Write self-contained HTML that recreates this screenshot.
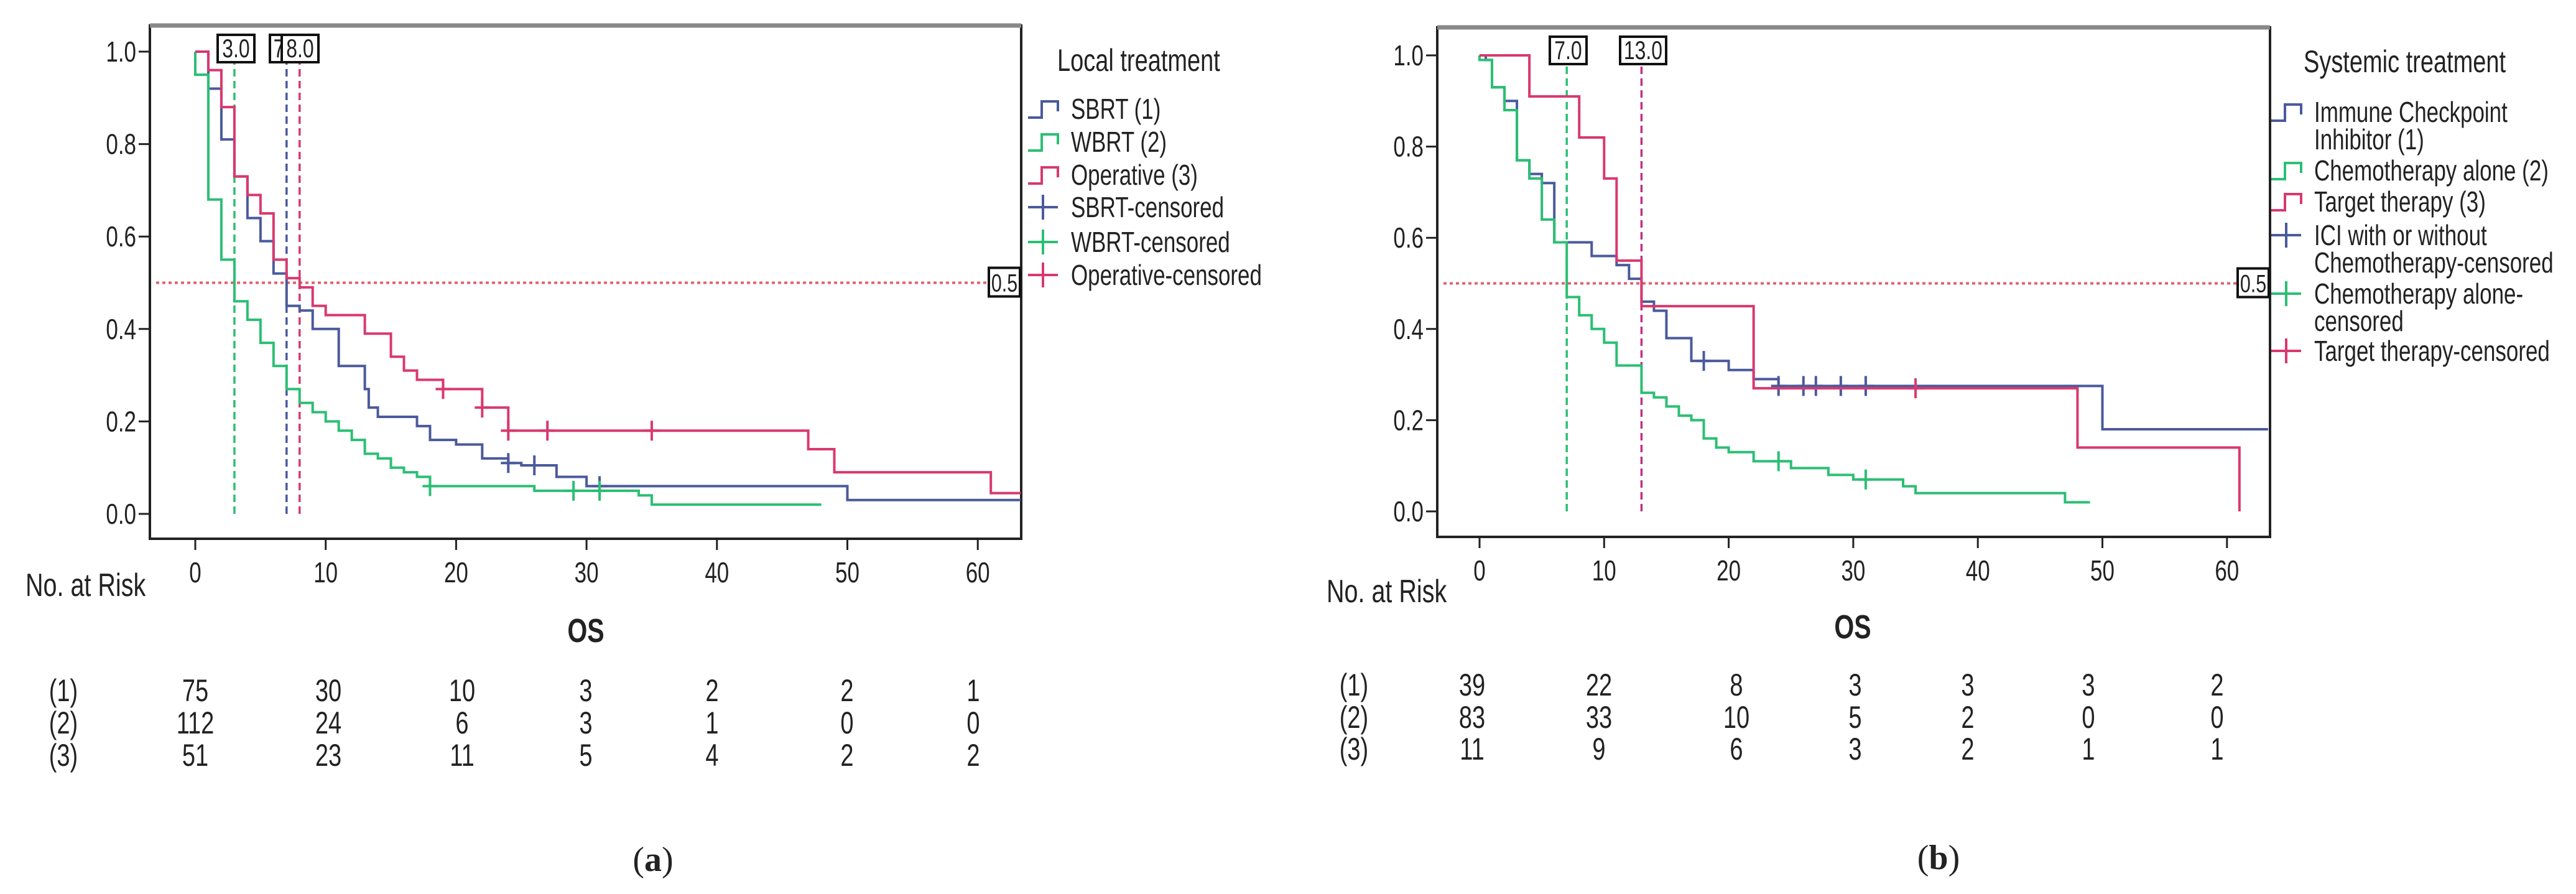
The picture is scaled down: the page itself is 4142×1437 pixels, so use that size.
<!DOCTYPE html>
<html><head><meta charset="utf-8"><style>
html,body{margin:0;padding:0;background:#fff;}
svg{display:block;}
text{font-family:"Liberation Sans Narrow","Liberation Sans",sans-serif;fill:#222;}
</style></head><body>
<svg id="fig" width="4142" height="1437" viewBox="0 0 4142 1437" xmlns="http://www.w3.org/2000/svg"></svg>
<script>
// ---------- Panel (a) data ----------
const aSbrtT=[1,2,3,4,5,6,7,8,9,11,13,13.3,14,17,18,20,22,24,25,27.7,30,50];
const aSbrtS=[0.92,0.81,0.73,0.64,0.59,0.52,0.45,0.44,0.40,0.32,0.27,0.23,0.21,0.19,0.16,0.15,0.12,0.11,0.105,0.08,0.06,0.03];
const aSbrtCens=[24,26,31];
const aWbrtT=[0,1,2,3,4,5,6,7,8,9,10,11,12,13,14,15,16,17,18,26,34,35];
const aWbrtS=[0.95,0.68,0.55,0.46,0.42,0.37,0.32,0.27,0.24,0.22,0.20,0.18,0.16,0.13,0.12,0.10,0.09,0.08,0.06,0.05,0.04,0.02];
const aWbrtCens=[18,29,31];
const aOpT=[1,2,3,4,5,6,7,8,9,10,13,15,16,17,19,22,24,47,49,61];
const aOpS=[0.96,0.88,0.73,0.69,0.65,0.55,0.51,0.49,0.45,0.43,0.39,0.34,0.31,0.29,0.27,0.23,0.18,0.14,0.09,0.045];
const aOpCens=[19,22,24,27,35];
const aEnds=[63.3,48,63.3];
const aMedians=[3,7,8];
const aMedianLabels=["3.0","7","8.0"];
const aRisk=[["75","30","10","3","2","2","1"],["112","24","6","3","1","0","0"],["51","23","11","5","4","2","2"]];
// ---------- Panel (b) data ----------
const bIciT=[0.5,1,2,3,4,5,6,9,11,12,13,14,15,17,20,22,24,50];
const bIciS=[0.99,0.93,0.90,0.77,0.74,0.72,0.59,0.56,0.54,0.51,0.46,0.44,0.38,0.33,0.31,0.29,0.275,0.18];
const bIciCens=[18,24,26,27,29,31];
const bChemoT=[0,1,2,3,4,5,6,7,8,9,10,11,13,14,15,16,17,18,19,20,22,25,28,30,34,35,47];
const bChemoS=[0.99,0.93,0.88,0.77,0.73,0.64,0.59,0.47,0.43,0.40,0.37,0.32,0.26,0.25,0.23,0.21,0.20,0.16,0.14,0.13,0.11,0.095,0.08,0.07,0.055,0.04,0.02];
const bChemoCens=[24,31];
const bTgtT=[4,8,10,11,13,22,48,61];
const bTgtS=[0.91,0.82,0.73,0.55,0.45,0.27,0.14,0];
const bTgtCens=[35];
const bEnds=[63.3,49,61];
const bMedians=[7,13];
const bMedianLabels=["7.0","13.0"];
const bRisk=[["39","22","8","3","3","3","2"],["83","33","10","5","2","0","0"],["11","9","6","3","2","1","1"]];
const xTicks=[0,10,20,30,40,50,60];
const yTicks=[0,0.2,0.4,0.6,0.8,1.0];
const yTickLabels=["0.0","0.2","0.4","0.6","0.8","1.0"];

const NS="http://www.w3.org/2000/svg";
const svg=document.getElementById('fig');
const SX=0.76;
function el(tag,attrs,parent,txt){const e=document.createElementNS(NS,tag);for(const k in attrs)e.setAttribute(k,attrs[k]);if(txt!==undefined)e.textContent=txt;(parent||svg).appendChild(e);return e;}
function tx(attrs,parent,txt,sx){const s=sx||SX;const e=el('text',attrs,parent,txt);e.setAttribute('transform',`matrix(${s} 0 0 1 ${(1-s)*attrs.x} 0)`);return e;}
const BLUE="#4a5a9c",GREEN="#2bbf73",RED="#d8396e";

function panel(P){
  const g=el('g',{});
  
  
  const X=t=>P.x0+(t)*P.xs, Y=s=>P.y0-(s)*P.ys;
  const fr=el('rect',{x:P.L,y:P.T,width:P.R-P.L,height:P.B-P.T,fill:'none',stroke:'#222','stroke-width':4},g);
  
  const tp=el('line',{x1:P.L,y1:P.T,x2:P.R,y2:P.T,stroke:'#888','stroke-width':7},g);
  
  yTicks.forEach((v,i)=>{
    const tk=el('line',{x1:P.L-18,y1:Y(v),x2:P.L,y2:Y(v),stroke:'#222','stroke-width':3},g);
    
    const tl=tx({x:P.L-22,y:Y(v)+16,'font-size':46,'text-anchor':'end'},g,yTickLabels[i]);
    
  });
  xTicks.forEach(v=>{
    const tk=el('line',{x1:X(v),y1:P.B,x2:X(v),y2:P.B+18,stroke:'#222','stroke-width':3},g);
    
    const tl=tx({x:X(v),y:P.B+70,'font-size':46,'text-anchor':'middle'},g,String(v));
    
  });
  const hl=el('line',{x1:P.L+10,y1:Y(0.5),x2:P.R-54,y2:Y(0.5),stroke:'#e06070','stroke-width':4,'stroke-dasharray':'5 5'},g);
  
  const hb=el('rect',{x:P.R-52,y:Y(0.5)-24,width:50,height:46,fill:'#fff',stroke:'#111','stroke-width':4},g);
  
  const ht=tx({x:P.R-27,y:Y(0.5)+14,'font-size':40,'text-anchor':'middle'},g,'0.5');
  
  P.medians.forEach((m,i)=>{
    const vl=el('line',{x1:X(m),y1:Y(0),x2:X(m),y2:P.T+58,stroke:P.medColors[i],'stroke-width':3.5,'stroke-dasharray':'12 7'},g);
    
    const w=P.medLabels[i].length*15+14;
    const bx=P.medBoxX?P.medBoxX[i]:X(m)-w/2;
    const rb=el('rect',{x:bx,y:P.T+15,width:w,height:44,fill:'#fff',stroke:'#111','stroke-width':4},g);
    
    const rt=tx({x:bx+w/2,y:P.T+51,'font-size':42,'text-anchor':'middle'},g,P.medLabels[i]);
    
  });
  P.series.forEach(s=>{
    let d=`M${X(0)},${Y(1)}`;
    s.T.forEach((t,i)=>{d+=` H${X(t)} V${Y(s.S[i])}`;});
    d+=` H${X(s.end)}`;
    const p=el('path',{d:d,fill:'none',stroke:s.color,'stroke-width':4},g);
    
    s.cens.forEach(c=>{
      let v=1;s.T.forEach((t,i)=>{if(t<=c)v=s.S[i];});
      const cm=el('path',{d:`M${X(c)-12},${Y(v)} H${X(c)+12} M${X(c)},${Y(v)-16} V${Y(v)+16}`,stroke:s.color,'stroke-width':4},g);
      
    });
  });
  const lt=tx({x:P.legX,y:P.legTitleY,'font-size':50},g,P.legTitle);
  
  P.legend.forEach(e=>{
    const lx=P.legIconX, y=e.y;
    let ic;
    if(e.type==='step') ic=el('path',{d:`M${lx},${y+14} H${lx+22} V${y-12} H${lx+48} V${y+4}`,fill:'none',stroke:e.color,'stroke-width':4},g);
    else ic=el('path',{d:`M${lx},${y} H${lx+48} M${lx+24},${y-20} V${y+20}`,stroke:e.color,'stroke-width':4},g);
    
    e.lines.forEach((ln,j)=>{
      const t=tx({x:P.legTextX,y:y+16+j*P.legLine,'font-size':46},g,ln);
      
    });
  });
  const nr=tx({x:P.nrX,y:P.nrY,'font-size':52},g,'No. at Risk');
  
  const os=tx({x:P.osX,y:P.osY,'font-size':54,'font-weight':'bold','text-anchor':'middle'},g,'OS');
  
  P.risk.forEach((row,r)=>{
    const lb=tx({x:P.riskLabelX,y:P.riskY[r]+17,'font-size':50,'text-anchor':'middle'},g,'('+(r+1)+')');
    
    row.forEach((v,c)=>{
      const t=tx({x:P.riskCols[c],y:P.riskY[r]+17,'font-size':50,'text-anchor':'middle'},g,v);
      
    });
  });
  const cap=el('text',{x:P.capX,y:P.capY,'font-size':56,'text-anchor':'middle','style':'font-family:"Liberation Serif",serif'},g);
  
  el('tspan',{},cap,'(');el('tspan',{'font-weight':'bold'},cap,P.cap);el('tspan',{},cap,')');
}

panel({name:'panel-a',L:241,R:1642,T:41,B:866,x0:314,xs:20.97,y0:826,ys:743,
  medians:aMedians,medLabels:aMedianLabels,medColors:[GREEN,BLUE,RED],medBoxX:[350,434,453],
  series:[{name:'sbrt',T:aSbrtT,S:aSbrtS,cens:aSbrtCens,end:aEnds[0],color:BLUE},
          {name:'wbrt',T:aWbrtT,S:aWbrtS,cens:aWbrtCens,end:aEnds[1],color:GREEN},
          {name:'operative',T:aOpT,S:aOpS,cens:aOpCens,end:aEnds[2],color:RED}],
  legTitle:'Local treatment',legX:1700,legTitleY:114,legIconX:1653,legTextX:1722,legLine:44,
  legend:[{y:175,type:'step',color:BLUE,lines:['SBRT (1)']},{y:228,type:'step',color:GREEN,lines:['WBRT (2)']},
          {y:281,type:'step',color:RED,lines:['Operative (3)']},{y:333,type:'cross',color:BLUE,lines:['SBRT-censored']},
          {y:389,type:'cross',color:GREEN,lines:['WBRT-censored']},{y:442,type:'cross',color:RED,lines:['Operative-censored']}],
  nrX:41,nrY:958,osX:942,osY:1032,risk:aRisk,riskLabelX:102,riskY:[1110,1162,1214],
  riskCols:[314,528,743,942,1145,1362,1565],capX:1050,capY:1400,cap:'a'});

panel({name:'panel-b',L:2311,R:3650,T:44,B:863,x0:2379,xs:20.03,y0:822,ys:733,
  medians:bMedians,medLabels:bMedianLabels,medColors:[GREEN,'#c0308a'],medBoxX:[2492,2605],
  series:[{name:'ici',T:bIciT,S:bIciS,cens:bIciCens,end:bEnds[0],color:BLUE},
          {name:'chemo',T:bChemoT,S:bChemoS,cens:bChemoCens,end:bEnds[1],color:GREEN},
          {name:'target',T:bTgtT,S:bTgtS,cens:bTgtCens,end:bEnds[2],color:RED}],
  legTitle:'Systemic treatment',legX:3704,legTitleY:116,legIconX:3652,legTextX:3721,legLine:44,
  legend:[{y:180,type:'step',color:BLUE,lines:['Immune Checkpoint','Inhibitor (1)']},
          {y:274,type:'step',color:GREEN,lines:['Chemotherapy alone (2)']},
          {y:324,type:'step',color:RED,lines:['Target therapy (3)']},
          {y:378,type:'cross',color:BLUE,lines:['ICI with or without','Chemotherapy-censored']},
          {y:472,type:'cross',color:GREEN,lines:['Chemotherapy alone-','censored']},
          {y:564,type:'cross',color:RED,lines:['Target therapy-censored']}],
  nrX:2133,nrY:968,osX:2979,osY:1026,risk:bRisk,riskLabelX:2177,riskY:[1101,1153,1204],
  riskCols:[2367,2571,2792,2983,3164,3358,3565],capX:3117,capY:1397,cap:'b'});
</script>
</body></html>
